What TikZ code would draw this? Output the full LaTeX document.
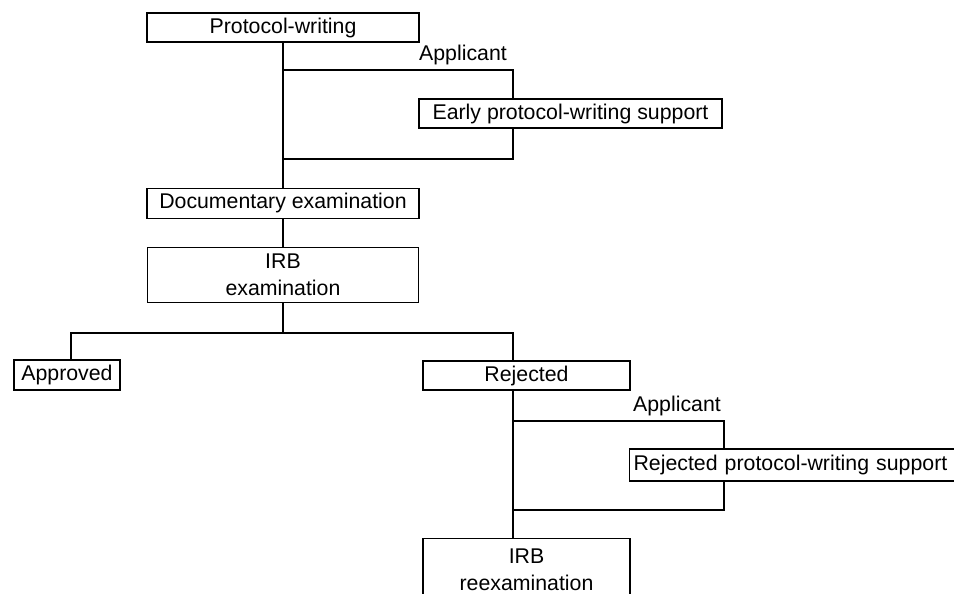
\documentclass[tikz,border=0pt]{standalone}
\usepackage{fontspec}
\setmainfont{Liberation Sans}
\usetikzlibrary{positioning}
\usetikzlibrary{calc}

\begin{document}
\begin{tikzpicture}[x=1pt,y=-1pt,line width=1.2pt,every node/.style={font=\fontsize{21.3}{27}\selectfont,inner sep=0pt,align=center}]
		\fill[white] (0,0) rectangle (954,594);
		\useasboundingbox (0,0) rectangle (954,594);
		\node[draw,rectangle,minimum width = 272pt,minimum height = 29pt] at (283,27.5) (prot) {Protocol-writing};
		\node[below = 145pt of prot,draw,rectangle,minimum width = 272pt,minimum height = 30pt] (doc) {Documentary examination};
		\node[below = 28pt of doc,draw,rectangle,minimum width = 271pt,minimum height = 55pt] (irb) {IRB\\examination};
		\node[draw,rectangle,minimum width = 303pt,minimum height = 29pt] at (570.5,113.5) (early) {Early protocol-writing support};
		\node at (463,55) (appl1) {Applicant};
		\node[draw,rectangle,minimum width = 106pt,minimum height = 30pt] at (67,375) (appr) {Approved};
		\node[draw,rectangle,minimum width = 207pt,minimum height = 29pt] at (526.5,375.5) (rej) {Rejected};
		\node at (677,406) (appl2) {Applicant};
		\node[draw,rectangle,anchor = west,align = left,text width = 340pt,inner xsep = 4pt,minimum height = 32pt] at (629,465) (rpws) {Rejected protocol-writing support};
		\node[draw,rectangle,anchor = north,minimum width = 207pt,minimum height = 62pt] at (526.5,538) (reexam) {IRB\\reexamination};
		\coordinate (f1) at (283,70);
		\coordinate (f1r) at (513,70);
		\coordinate (j1) at (283,159);
		\coordinate (j1r) at (513,159);
		\coordinate (sp) at (283,333);
		\coordinate (spl) at (71,333);
		\coordinate (spr) at (513,333);
		\coordinate (f2) at (513,421);
		\coordinate (f2r) at (724,421);
		\coordinate (j2) at (513,510);
		\coordinate (j2r) at (724,510);
		\draw (prot) -- (doc);
		\draw (f1) -- (f1r) -- (early.north -| f1r);
		\draw (early.south -| f1r) -- (j1r) -- (j1);
		\draw (doc) -- (irb);
		\draw (irb) -- (sp);
		\draw (appr.north -| spl) -- (spl) -- (spr) -- (rej.north -| spr);
		\draw (rej.south -| f2) -- (reexam.north -| f2);
		\draw (f2) -- (f2r) -- (rpws.north -| f2r);
		\draw (rpws.south -| f2r) -- (j2r) -- (j2);
	\end{tikzpicture}
\end{document}
